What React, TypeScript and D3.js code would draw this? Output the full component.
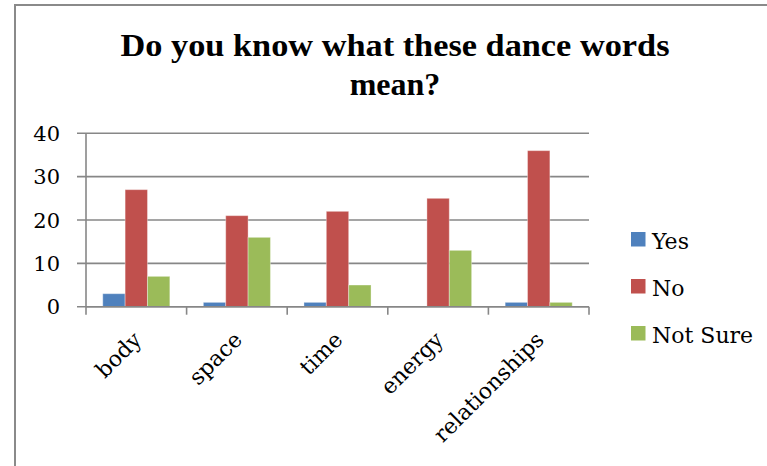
import React from "react";
import * as d3 from "d3";

const categories = ["body", "space", "time", "energy", "relationships"];
const seriesNames = ["Yes", "No", "Not Sure"];
const yesValues = [3, 1, 1, 0, 1];
const noValues = [27, 21, 22, 25, 36];
const notSureValues = [7, 16, 5, 13, 1];
const yTicks = [0, 10, 20, 30, 40];
const colors = ["#4F81BD", "#C0504D", "#9BBB59"];
const titleLines = ["Do you know what these dance words", "mean?"];

const W = 767;
const H = 466;
const plotLeft = 86;
const plotRight = 589;
const plotTop = 133.3;
const plotBottom = 306.7;

export default function App() {
  const series = [yesValues, noValues, notSureValues];
  const x = d3.scaleBand<string>().domain(categories).range([plotLeft, plotRight]).padding(0);
  const bw = x.bandwidth();
  const x1 = d3
    .scaleBand<string>()
    .domain(seriesNames)
    .range([bw / 6, bw - bw / 6])
    .padding(0);
  const y = d3.scaleLinear().domain([0, 40]).range([plotBottom, plotTop]);
  const serif = "'Liberation Serif', 'Times New Roman', serif";
  const bodyFont = "'DejaVu Serif', serif";
  const grid = "#878787";
  const boundaries = categories.map((c) => x(c) as number).concat([plotRight]);

  return (
    <svg
      width={W}
      height={H}
      style={{ position: "absolute", left: 0, top: 0, background: "#fff" }}
    >
      <rect x={0} y={0} width={W} height={H} fill="#fff" />
      {/* outer border */}
      <line x1={15} y1={5} x2={15} y2={H} stroke="#8a8a8a" strokeWidth={2} />
      <line x1={14} y1={5} x2={W} y2={5} stroke="#8a8a8a" strokeWidth={2} />

      {/* title */}
      <text
        x={395}
        y={56}
        textAnchor="middle"
        fontFamily={serif}
        fontWeight="bold"
        fontSize={32}
        textLength={549}
        lengthAdjust="spacingAndGlyphs"
      >
        {titleLines[0]}
      </text>
      <text x={395} y={95} textAnchor="middle" fontFamily={serif} fontWeight="bold" fontSize={32}>
        {titleLines[1]}
      </text>

      {/* gridlines and y labels */}
      {yTicks.map((t) => (
        <g key={t}>
          <line x1={77} x2={plotRight} y1={y(t)} y2={y(t)} stroke={grid} strokeWidth={1.6} />
          <text
            x={60}
            y={y(t)}
            dy="0.36em"
            textAnchor="end"
            fontFamily={bodyFont}
            fontSize={21}
            fill="#000"
          >
            {t}
          </text>
        </g>
      ))}
      {/* y axis line */}
      <line x1={plotLeft} x2={plotLeft} y1={plotTop} y2={plotBottom} stroke={grid} strokeWidth={1.6} />

      {/* bars */}
      {categories.map((c, i) => (
        <g key={c} transform={`translate(${x(c)},0)`}>
          {series.map((vals, s) =>
            vals[i] > 0 ? (
              <rect
                key={s}
                x={x1(seriesNames[s])}
                y={y(vals[i])}
                width={x1.bandwidth()}
                height={y(0) - y(vals[i])}
                fill={colors[s]}
                stroke="rgba(255,255,255,0.35)"
                strokeWidth={1}
              />
            ) : null
          )}
        </g>
      ))}

      {/* category ticks */}
      {boundaries.map((bx, i) => (
        <line key={i} x1={bx} x2={bx} y1={plotBottom} y2={plotBottom + 8} stroke={grid} strokeWidth={1.6} />
      ))}
      <line x1={plotLeft} x2={plotRight} y1={plotBottom} y2={plotBottom} stroke={grid} strokeWidth={1.6} />

      {/* x labels */}
      {categories.map((c) => (
        <text
          key={c}
          transform={`translate(${(x(c) as number) + bw / 2 - 6},${plotBottom + 22}) rotate(-45)`}
          textAnchor="end"
          dy="0.8em"
          fontFamily={bodyFont}
          fontSize={22}
          fill="#000"
        >
          {c}
        </text>
      ))}

      {/* legend */}
      {seriesNames.map((n, i) => (
        <g key={n} transform={`translate(631,${232 + i * 47})`}>
          <rect x={0} y={0} width={14.5} height={14.5} fill={colors[i]} />
          <text x={21} y={16.5} fontFamily={bodyFont} fontSize={22} fill="#000">
            {n}
          </text>
        </g>
      ))}
    </svg>
  );
}
